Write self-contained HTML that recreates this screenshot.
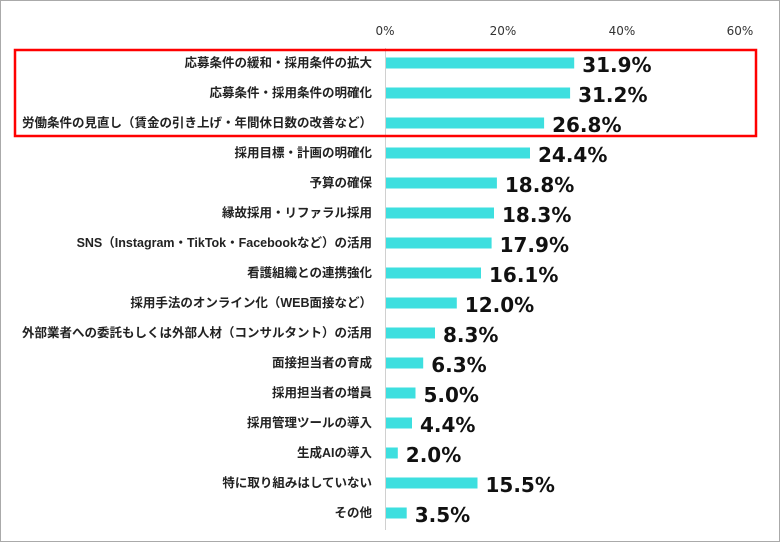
<!DOCTYPE html>
<html><head><meta charset="utf-8"><style>
html,body{margin:0;padding:0;background:#fff;}
svg{display:block;}
.l{font-family:"Liberation Sans","Noto Sans CJK JP",sans-serif;font-size:12.5px;font-weight:bold;fill:#222;}
.v{font-family:"DejaVu Sans","Liberation Sans",sans-serif;font-size:20px;font-weight:bold;fill:#111;}
.a{font-family:"DejaVu Sans","Liberation Sans",sans-serif;font-size:12px;fill:#333;}
.b{fill:#3ddfdf;}
</style></head><body>
<svg width="781" height="543" viewBox="0 0 781 543" xmlns="http://www.w3.org/2000/svg">
<rect x="0.5" y="0.5" width="779" height="541" fill="#fff" stroke="#aaa"/>
<text class="a" x="385" y="35" text-anchor="middle">0%</text>
<text class="a" x="503" y="35" text-anchor="middle">20%</text>
<text class="a" x="622" y="35" text-anchor="middle">40%</text>
<text class="a" x="740" y="35" text-anchor="middle">60%</text>
<line x1="385.5" y1="48" x2="385.5" y2="530" stroke="#d0d0d0"/>

<text class="l" x="372" y="67" text-anchor="end">応募条件の緩和・採用条件の拡大</text>
<rect class="b" x="386" y="57.5" width="188.2" height="11"/>
<text class="v" x="582.2" y="72">31.9%</text>

<text class="l" x="372" y="97" text-anchor="end">応募条件・採用条件の明確化</text>
<rect class="b" x="386" y="87.5" width="184.1" height="11"/>
<text class="v" x="578.1" y="102">31.2%</text>

<text class="l" x="372" y="127" text-anchor="end">労働条件の見直し（賃金の引き上げ・年間休日数の改善など）</text>
<rect class="b" x="386" y="117.5" width="158.1" height="11"/>
<text class="v" x="552.1" y="132">26.8%</text>

<text class="l" x="372" y="157" text-anchor="end">採用目標・計画の明確化</text>
<rect class="b" x="386" y="147.5" width="144" height="11"/>
<text class="v" x="538" y="162">24.4%</text>

<text class="l" x="372" y="187" text-anchor="end">予算の確保</text>
<rect class="b" x="386" y="177.5" width="110.9" height="11"/>
<text class="v" x="504.9" y="192">18.8%</text>

<text class="l" x="372" y="217" text-anchor="end">縁故採用・リファラル採用</text>
<rect class="b" x="386" y="207.5" width="108" height="11"/>
<text class="v" x="502" y="222">18.3%</text>

<text class="l" x="372" y="247" text-anchor="end">SNS（Instagram・TikTok・Facebookなど）の活用</text>
<rect class="b" x="386" y="237.5" width="105.6" height="11"/>
<text class="v" x="499.6" y="252">17.9%</text>

<text class="l" x="372" y="277" text-anchor="end">看護組織との連携強化</text>
<rect class="b" x="386" y="267.5" width="95" height="11"/>
<text class="v" x="489" y="282">16.1%</text>

<text class="l" x="372" y="307" text-anchor="end">採用手法のオンライン化（WEB面接など）</text>
<rect class="b" x="386" y="297.5" width="70.8" height="11"/>
<text class="v" x="464.8" y="312">12.0%</text>

<text class="l" x="372" y="337" text-anchor="end">外部業者への委託もしくは外部人材（コンサルタント）の活用</text>
<rect class="b" x="386" y="327.5" width="49" height="11"/>
<text class="v" x="443" y="342">8.3%</text>

<text class="l" x="372" y="367" text-anchor="end">面接担当者の育成</text>
<rect class="b" x="386" y="357.5" width="37.2" height="11"/>
<text class="v" x="431.2" y="372">6.3%</text>

<text class="l" x="372" y="397" text-anchor="end">採用担当者の増員</text>
<rect class="b" x="386" y="387.5" width="29.5" height="11"/>
<text class="v" x="423.5" y="402">5.0%</text>

<text class="l" x="372" y="427" text-anchor="end">採用管理ツールの導入</text>
<rect class="b" x="386" y="417.5" width="26" height="11"/>
<text class="v" x="420" y="432">4.4%</text>

<text class="l" x="372" y="457" text-anchor="end">生成AIの導入</text>
<rect class="b" x="386" y="447.5" width="11.8" height="11"/>
<text class="v" x="405.8" y="462">2.0%</text>

<text class="l" x="372" y="487" text-anchor="end">特に取り組みはしていない</text>
<rect class="b" x="386" y="477.5" width="91.5" height="11"/>
<text class="v" x="485.5" y="492">15.5%</text>

<text class="l" x="372" y="517" text-anchor="end">その他</text>
<rect class="b" x="386" y="507.5" width="20.7" height="11"/>
<text class="v" x="414.7" y="522">3.5%</text>

<rect x="15" y="50" width="741" height="86" fill="none" stroke="#f00" stroke-width="2.5"/>
</svg>
</body></html>
